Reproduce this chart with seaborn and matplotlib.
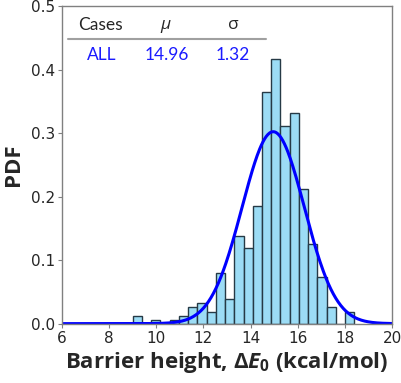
import matplotlib
matplotlib.use("Agg")
import matplotlib.pyplot as plt
import seaborn as sns
import numpy as np
import pandas as pd

# histogram values (24 equal bins, 9.0 .. 18.4)
bin_lo, bin_hi, n_bins = 9.0, 18.4, 24
pdf_vals = [0.0127, 0.0, 0.006, 0.0, 0.006, 0.0127, 0.026, 0.032,
            0.019, 0.079, 0.039, 0.138, 0.119, 0.185, 0.364, 0.417,
            0.312, 0.331, 0.212, 0.126, 0.073, 0.026, 0.0, 0.019]

# fitted normal shown in the table
case_names = ["ALL"]
mu_vals = [14.96]
sigma_vals = [1.32]

x_ticks = [6, 8, 10, 12, 14, 16, 18, 20]
y_ticks = [0.0, 0.1, 0.2, 0.3, 0.4, 0.5]

sns.set_style("white")
plt.rcParams["font.family"] = ["DejaVu Sans"]
plt.rcParams["mathtext.fontset"] = "custom"
plt.rcParams["mathtext.it"] = "Open Sans:italic:bold"
plt.rcParams["mathtext.rm"] = "Open Sans:bold"

edges = np.linspace(bin_lo, bin_hi, n_bins + 1)
centers = (edges[:-1] + edges[1:]) / 2
df = pd.DataFrame({"x": centers, "w": pdf_vals})

fig = plt.figure(figsize=(4.01, 3.83), dpi=100)
ax = fig.add_axes([0.1546, 0.155, 0.823, 0.829])

sns.histplot(data=df, x="x", weights="w", bins=list(edges), stat="count",
             color="#9cdcf5", alpha=1.0, edgecolor="#263a46", linewidth=1.0, ax=ax)

xs = np.linspace(6, 20, 400)
curve = pd.DataFrame({"x": xs,
                      "y": np.exp(-0.5 * ((xs - mu_vals[0]) / sigma_vals[0]) ** 2)
                      / (sigma_vals[0] * np.sqrt(2 * np.pi))})
sns.lineplot(data=curve, x="x", y="y", color="#0000ff", linewidth=2.2, ax=ax)

ax.set_xlim(6, 20)
ax.set_ylim(0, 0.5)
ax.set_xticks(x_ticks)
ax.set_yticks(y_ticks)
ax.set_yticklabels([f"{v:.1f}" for v in y_ticks])
ax.tick_params(axis="both", labelsize=11, length=3, color="#808080",
               direction="out", bottom=True, left=True, pad=2)
for sp in ax.spines.values():
    sp.set_color("#808080")
    sp.set_linewidth(1.0)

ax.set_xlabel(r"Barrier height, $\Delta E_0$ (kcal/mol)", fontsize=16,
              fontweight="bold", family=["Open Sans", "DejaVu Sans"], labelpad=3)
ax.set_ylabel("PDF", fontsize=16, fontweight="bold",
              family=["Open Sans", "DejaVu Sans"], labelpad=5)

# little table in the top left corner
tfont = ["Lato", "Open Sans", "DejaVu Sans"]
ax.text(0.118, 0.94, "Cases", transform=ax.transAxes, ha="center", va="center",
        fontsize=12.5, family=tfont)
ax.text(0.312, 0.94, "μ", transform=ax.transAxes, ha="center", va="center",
        fontsize=12.5, family=["Open Sans", "DejaVu Sans"], style="italic")
ax.text(0.518, 0.94, "σ", transform=ax.transAxes, ha="center", va="center",
        fontsize=12.5, family=["Open Sans", "DejaVu Sans"])
ax.plot([0.018, 0.618], [0.895, 0.895], transform=ax.transAxes,
        color="#a0a0a0", linewidth=1.5)
for i, name in enumerate(case_names):
    yy = 0.845 - i * 0.09
    ax.text(0.121, yy, name, transform=ax.transAxes, ha="center", va="center",
            fontsize=12.5, family=tfont, color="#1a1aff")
    ax.text(0.318, yy, f"{mu_vals[i]:.2f}", transform=ax.transAxes, ha="center",
            va="center", fontsize=12.5, family=tfont, color="#1a1aff")
    ax.text(0.518, yy, f"{sigma_vals[i]:.2f}", transform=ax.transAxes, ha="center",
            va="center", fontsize=12.5, family=tfont, color="#1a1aff")

fig.savefig("out.png", dpi=100)
